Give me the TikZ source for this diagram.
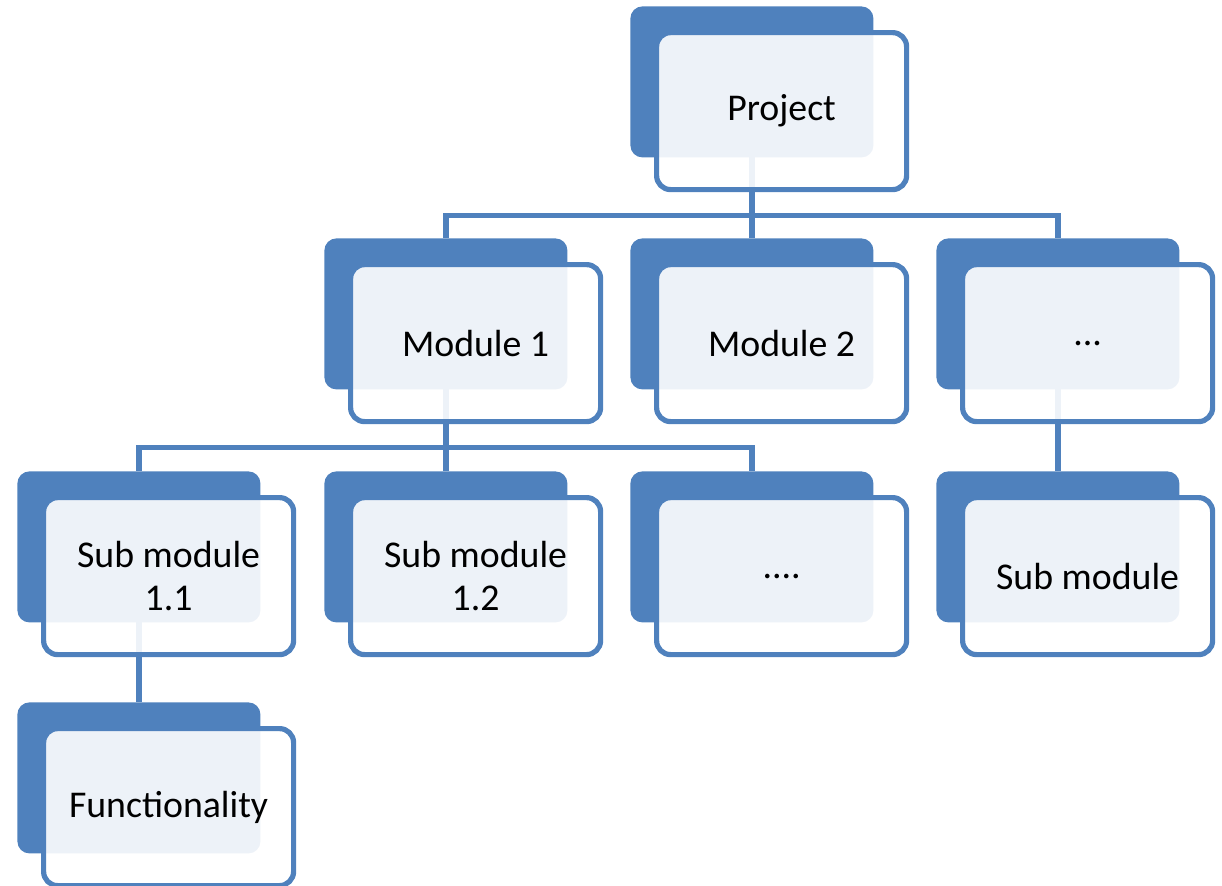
\documentclass[tikz,border=0pt]{standalone}
\usepackage{fontspec}
\setmainfont{Carlito}
\usetikzlibrary{calc}
\definecolor{accent}{RGB}{79,129,189}
\pgfdeclarelayer{bg}
\pgfsetlayers{bg,main}
\tikzset{
  backbox/.style={draw=none, fill=accent, rounded corners=6pt, minimum width=121.5pt, minimum height=75.5pt, inner sep=0pt, anchor=north west},
  frontbox/.style={draw=accent, line width=2.6pt, fill=white, fill opacity=0.9, text opacity=1, draw opacity=1, rounded corners=7pt, minimum width=125pt, minimum height=78.5pt, inner sep=0pt, anchor=north west, align=center, font=\fontsize{18.9}{21.5}\selectfont},
  conn/.style={draw=accent, line width=2.6pt}
}
\newcommand{\orgbox}[4]{%
  \node[backbox] (#1b) at (#2,#3) {};
  \node[frontbox] (#1) at (#2+24,#3+24) {#4};
}
\begin{document}
\begin{tikzpicture}[x=0.5pt,y=-0.5pt]
\useasboundingbox (0,0) rectangle (1222,885);
\orgbox{proj}{630}{6}{Project}
\orgbox{ma}{324}{238}{Module 1}
\orgbox{mb}{630}{238}{Module 2}
\orgbox{mc}{936}{238}{...}
\orgbox{sa}{17}{471}{Sub module\\1.1}
\orgbox{sb}{324}{471}{Sub module\\1.2}
\orgbox{sc}{630}{471}{....}
\orgbox{sd}{936}{471}{Sub module}
\orgbox{fa}{17}{702}{Functionality}
\begin{pgfonlayer}{bg}
  \foreach \c in {ma,mb,mc}
    \draw[conn] (projb.center) |- ($(proj.south)!0.5!(\c b.north)$) -| (\c b.north);
  \foreach \c in {sa,sb,sc}
    \draw[conn] (mab.center) |- ($(ma.south)!0.5!(\c b.north)$) -| (\c b.north);
  \draw[conn] (mcb.center) -- (sdb.north);
  \draw[conn] (sab.center) -- (fab.north);
\end{pgfonlayer}
\end{tikzpicture}
\end{document}
